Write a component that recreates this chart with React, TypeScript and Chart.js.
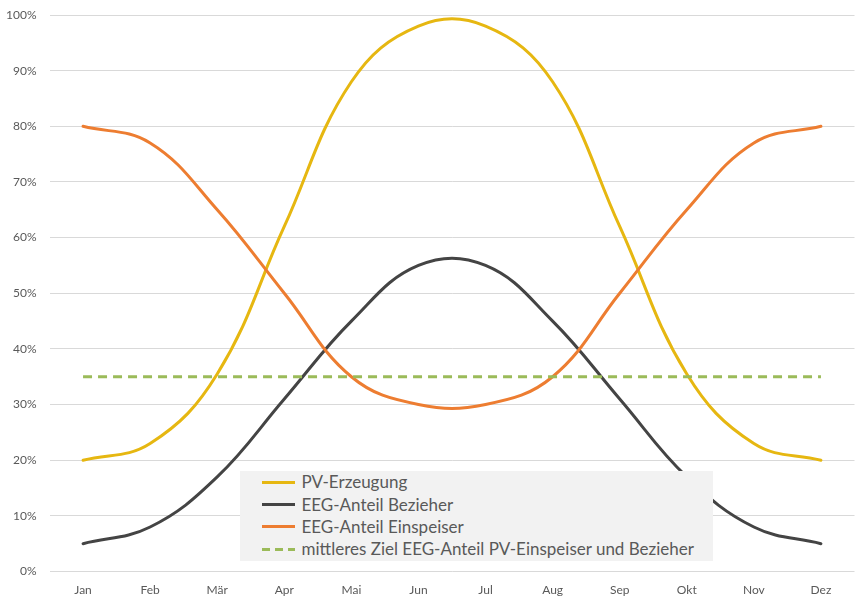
import React, { useEffect, useRef } from "react";
import { Chart, registerables } from "chart.js";

Chart.register(...registerables);

const months = ["Jan", "Feb", "Mär", "Apr", "Mai", "Jun", "Jul", "Aug", "Sep", "Okt", "Nov", "Dez"];
const pvErzeugung = [20, 23, 35.5, 62, 88, 98, 98, 88, 62, 35.5, 23, 20];
const eegBezieher = [5, 8, 17, 31, 45, 55, 55, 45, 31, 17, 8, 5];
const eegEinspeiser = [80, 77, 65, 50, 35, 30, 30, 35, 50, 65, 77, 80];
const zielMittel = [35, 35, 35, 35, 35, 35, 35, 35, 35, 35, 35, 35];

const seriesNames = [
  "PV-Erzeugung",
  "EEG-Anteil Bezieher",
  "EEG-Anteil Einspeiser",
  "mittleres Ziel EEG-Anteil PV-Einspeiser und Bezieher",
];
const colors = ["#E6B711", "#444444", "#ED7D31", "#9BBB59"];

const FONT = "Lato, 'Open Sans', sans-serif";
const TEXT = "#595959";

export default function App() {
  const ref = useRef<HTMLCanvasElement>(null);

  useEffect(() => {
    const chart = new Chart(ref.current!, {
      type: "line",
      data: {
        labels: months,
        datasets: [
          { label: seriesNames[0], data: pvErzeugung, borderColor: colors[0], order: 4 },
          { label: seriesNames[1], data: eegBezieher, borderColor: colors[1], order: 3 },
          { label: seriesNames[2], data: eegEinspeiser, borderColor: colors[2], order: 2 },
          {
            label: seriesNames[3],
            data: zielMittel,
            borderColor: colors[3],
            borderDash: [9, 6],
            borderCapStyle: "butt",
            tension: 0,
            order: 1,
          },
        ].map((d) => ({
          borderWidth: 3,
          pointRadius: 0,
          pointHoverRadius: 0,
          fill: false,
          tension: 0.4,
          borderCapStyle: "round" as const,
          borderJoinStyle: "round" as const,
          ...d,
        })),
      },
      options: {
        responsive: false,
        animation: false,
        events: [],
        layout: { padding: { top: 15, right: 4.5, left: 0, bottom: 0 } },
        plugins: { legend: { display: false }, tooltip: { enabled: false } },
        scales: {
          x: {
            offset: true,
            grid: { display: false, drawTicks: false },
            border: { display: false },
            ticks: { color: TEXT, font: { family: FONT, size: 12 }, padding: 11, maxRotation: 0 },
            afterFit: (s: any) => {
              s.height = 33.5;
              s.paddingLeft = 0;
              s.paddingRight = 0;
            },
          },
          y: {
            min: 0,
            max: 100,
            grid: { color: "#D9D9D9", lineWidth: 1, drawTicks: false },
            border: { display: false },
            ticks: {
              stepSize: 10,
              color: TEXT,
              font: { family: FONT, size: 12 },
              padding: 13,
              callback: (v: any) => v + "%",
            },
            afterFit: (s: any) => {
              s.width = 49.5;
              s.paddingTop = 0;
              s.paddingBottom = 0;
            },
          },
        },
      },
    });
    return () => chart.destroy();
  }, []);

  return (
    <div
      style={{
        position: "absolute",
        left: 0,
        top: 0,
        width: 859,
        height: 605,
        background: "#fff",
        fontFamily: FONT,
      }}
    >
      <canvas ref={ref} width={859} height={605} style={{ display: "block", width: 859, height: 605 }} />
      <div
        style={{
          position: "absolute",
          left: 240,
          top: 471,
          width: 473,
          height: 90,
          background: "#F2F2F2",
        }}
      >
        {seriesNames.map((name, i) => (
          <div
            key={name}
            style={{
              position: "absolute",
              left: 0,
              top: i * 22.4,
              height: 22.4,
              width: 473,
              display: "flex",
              alignItems: "center",
            }}
          >
            <div
              style={{
                marginLeft: 22,
                width: 33,
                height: 3,
                background:
                  i === 3
                    ? `repeating-linear-gradient(to right, ${colors[3]} 0 8px, transparent 8px 13px)`
                    : colors[i],
              }}
            />
            <span
              style={{
                marginLeft: 6.5,
                color: TEXT,
                fontSize: 17,
                lineHeight: "22px",
                whiteSpace: "nowrap",
              }}
            >
              {name}
            </span>
          </div>
        ))}
      </div>
    </div>
  );
}
